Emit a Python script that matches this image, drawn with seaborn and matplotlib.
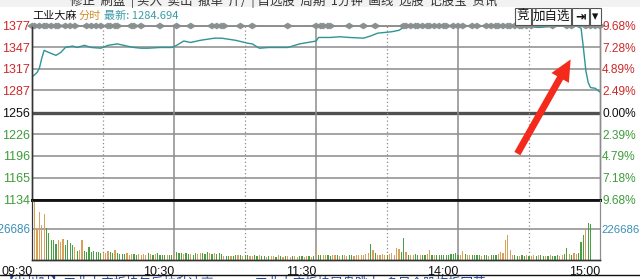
import numpy as np
import pandas as pd
import matplotlib
matplotlib.use("Agg")
import matplotlib.pyplot as plt
from matplotlib.path import Path
import seaborn as sns

# ---------------- data ----------------
levels = [1377, 1347, 1317, 1287, 1256, 1226, 1196, 1165, 1134]
pct_labels = ['9.68%', '7.28%', '4.89%', '2.49%', '0.00%', '2.39%', '4.79%', '7.18%', '9.68%']
time_ticks = [0, 60, 120, 180, 240]
time_labels = ['09:30', '10:30', '11:30', '14:00', '15:00']
vol_ref = 226686

price_minutes = [0, 2, 3, 4, 5, 7, 10, 12, 14, 17, 19, 22, 25, 29, 32, 36, 40, 43, 46, 49,
                 54, 59, 61, 64, 67, 71, 75, 77, 80, 86, 91, 93, 96, 100, 108, 113, 120,
                 121, 126, 130, 134, 140, 143, 146, 152, 155, 157, 160, 164, 172, 181,
                 189, 198, 206, 214, 223, 230, 232, 233, 234, 235, 236, 238, 240]
price_values = [1306, 1312, 1318, 1332, 1343, 1340, 1336, 1340, 1347, 1349, 1347, 1350, 1347,
                1346, 1350, 1352, 1349, 1347, 1346, 1346, 1347, 1347, 1350, 1356, 1354, 1357,
                1359, 1360, 1360, 1357, 1353, 1352, 1346, 1347, 1347, 1352, 1356,
                1361, 1361, 1362, 1361, 1360, 1363, 1367, 1369, 1371, 1375, 1377, 1378, 1378,
                1377, 1377, 1377, 1377, 1375, 1377, 1377, 1374, 1346, 1315, 1298, 1291, 1290,
                1284.7]

marker_minutes = [0, 1, 3, 5, 6, 8, 10, 11, 14, 16, 18, 23, 25, 27, 29, 32, 33, 35, 36, 42, 43,
                  46, 54, 61, 67, 76, 78, 80, 81, 88, 93, 108, 120, 122, 123, 125, 126, 134,
                  140, 145, 157, 158, 160, 162, 163, 165, 167, 168, 170, 172, 174, 175, 178,
                  180, 182, 186, 188, 192, 194, 196, 197, 199, 201, 202, 204, 206, 207, 209,
                  211, 220, 226, 228, 234, 236, 238, 240]

# volume in thousands, one per minute (09:30 - 11:30, then 13:01 - 15:00)
volume_am_k = [182, 426, 227, 353, 257, 333, 232, 194, 149, 144, 118, 149, 131, 151, 113, 149,
               123, 106, 93, 68, 73, 144, 68, 55, 93, 55, 63, 55, 55, 50, 48, 50, 63, 55, 50,
               73, 48, 45, 45, 43, 48, 40, 45, 42, 38, 45, 40, 42, 38, 48, 42, 38, 45, 48, 40,
               36, 33, 38, 35, 40, 48, 58, 52, 50, 45, 48, 42, 45, 40, 48, 45, 50, 48, 45, 58,
               50, 45, 48, 45, 50, 42, 30, 28, 32, 30, 28, 33, 38, 33, 30, 38, 35, 28, 30, 33,
               30, 35, 28, 30, 25, 28, 30, 28, 25, 33, 28, 25, 30, 28, 25, 30, 28, 25, 28, 30,
               25, 28, 30, 25, 28, 95]
volume_pm_k = [38, 35, 40, 33, 38, 30, 35, 38, 33, 30, 35, 38, 30, 33, 35, 30, 38, 33, 35, 40,
               45, 50, 116, 70, 48, 40, 38, 45, 40, 35, 45, 50, 40, 91, 83, 55, 159, 58, 40, 35,
               38, 42, 35, 38, 40, 35, 45, 75, 38, 40, 35, 38, 33, 40, 35, 38, 42, 45, 48, 40,
               38, 65, 42, 38, 35, 40, 33, 35, 38, 30, 33, 35, 30, 38, 33, 35, 45, 58, 50, 146,
               184, 70, 40, 35, 30, 28, 33, 30, 35, 30, 28, 33, 30, 35, 33, 28, 30, 28, 33, 30,
               28, 35, 30, 33, 45, 91, 45, 40, 48, 45, 50, 134, 184, 222, 272, 260, 0, 0, 0, 0]
# o = opening bar, u = up (orange), d = down (green)
direction_am = ("ouuuuuddddduuudddduduudddddddduuuddu"
                "dddduuudduuuudududdddudduddduddudduudddududddudduddududduuddudduduudud"
                "uduuduuddu")
direction_pm = ("udududduudduududuudduuuuuuududuuuuduuuuudduduuddudduudu"
                "dddddddddduuduuddddudduddduuuuuuuddudduduududdududdduudduduu"
                "dddudddddd")

# ---------------- build tables ----------------
vol = np.array(volume_am_k + volume_pm_k, dtype=float) * 1000
dirs = list(direction_am + direction_pm)
n = len(vol)
dirs = (dirs + ['d'] * n)[:n]
df_vol = pd.DataFrame({'minute': np.arange(n), 'volume': vol, 'dir': dirs})
df_price = pd.DataFrame({'minute': price_minutes, 'price': price_values})
df_mark = pd.DataFrame({'minute': marker_minutes, 'y': [1377] * len(marker_minutes)})

# ---------------- style ----------------
sns.set_style('white')
plt.rcParams['font.family'] = ['Liberation Sans', 'Noto Sans CJK SC', 'DejaVu Sans']
CJK = ['Noto Sans CJK SC', 'DejaVu Sans']

RED = '#cc2a2a'
GREEN = '#3f9c3a'
TEAL_TXT = '#3a8fb8'
GRID = '#8c8c8c'
LINE = '#2f9494'
ORANGE = '#d9a05c'
BARGREEN = '#4a9f45'
BLUEBAR = '#5aaed0'

W, H = 640, 279
fig = plt.figure(figsize=(W / 100, H / 100), dpi=100)
fig.patch.set_facecolor('white')

def fx(x):
    return x / W

def fy(y):
    return 1 - y / H

L, R = 32.3, 600
ax = fig.add_axes([fx(L), fy(200), fx(R - L), (200 - 26) / H])
axv = fig.add_axes([fx(L), fy(260), fx(R - L), (260 - 200) / H])

# ---------------- price panel ----------------
for lv in levels:
    if lv == 1256:
        ax.axhline(lv, color='#505050', lw=2.4, zorder=1)
    elif lv == 1134:
        pass
    else:
        ax.axhline(lv, color=GRID, lw=1.1, zorder=1)
for m in [60, 120, 180]:
    ax.axvline(m, color=GRID, lw=1.1, zorder=1)
for m in [30, 90, 150, 210]:
    ax.axvline(m, color=GRID, lw=0.9, ls=(0, (1, 2)), zorder=1)

sns.lineplot(data=df_price, x='minute', y='price', ax=ax, color=LINE, lw=1.0,
             estimator=None, sort=False, zorder=3)

diamond = Path([(-1, 0), (0, 0.62), (1, 0), (0, -0.62), (-1, 0)],
               [Path.MOVETO, Path.LINETO, Path.LINETO, Path.LINETO, Path.CLOSEPOLY])
sns.scatterplot(data=df_mark, x='minute', y='y', ax=ax, marker=diamond, s=62,
                color='#8a9494', edgecolor='none', linewidth=0, zorder=4, clip_on=False)

ax.set_xlim(0, 240)
ax.set_ylim(1134, 1377)
ax.set_xlabel('')
ax.set_ylabel('')
ax.set_xticks([])
ax.set_yticks(levels)
ax.set_yticklabels([str(v) for v in levels], fontsize=9)
ax.tick_params(axis='y', length=0, pad=1.5)
for lbl, lv in zip(ax.get_yticklabels(), levels):
    lbl.set_color(RED if lv > 1256 else ('#111111' if lv == 1256 else GREEN))

axr = ax.twinx()
axr.set_ylim(1134, 1377)
axr.set_yticks(levels)
axr.set_yticklabels(pct_labels, fontsize=8.6)
axr.tick_params(axis='y', length=0, pad=1.5)
for lbl, lv in zip(axr.get_yticklabels(), levels):
    lbl.set_color(RED if lv > 1256 else ('#111111' if lv == 1256 else GREEN))

for a in (ax, axr):
    a.spines['top'].set_color(GRID)
    a.spines['top'].set_linewidth(1.1)
    a.spines['left'].set_color('#333333')
    a.spines['left'].set_linewidth(1.0)
    a.spines['right'].set_color(GRID)
    a.spines['right'].set_linewidth(1.0)
    a.spines['bottom'].set_color('#111111')
    a.spines['bottom'].set_linewidth(2.0)

# ---------------- volume panel ----------------
axv.axhline(vol_ref, color=GRID, lw=1.1, zorder=0)
for m in [60, 120, 180]:
    axv.axvline(m, color=GRID, lw=1.1, zorder=0)
for m in [30, 90, 150, 210]:
    axv.axvline(m, color=GRID, lw=0.9, ls=(0, (1, 2)), zorder=0)

sns.barplot(data=df_vol, x='minute', y='volume', hue='dir', ax=axv,
            palette={'u': ORANGE, 'd': BARGREEN, 'o': BLUEBAR},
            width=0.5, dodge=False, legend=False, linewidth=0, edgecolor='none',
            saturation=1, errorbar=None, zorder=2)
axv.set_xlim(0, 240)
axv.set_ylim(0, 438000)
axv.set_xlabel('')
axv.set_ylabel('')
axv.set_yticks([vol_ref])
axv.set_yticklabels([str(vol_ref)], fontsize=8.4, color=TEAL_TXT)
axv.tick_params(axis='y', length=0, pad=1.5)
axv.set_xticks(time_ticks)
axv.set_xticklabels(time_labels, fontsize=9, color='#111111', ha='right')
axv.tick_params(axis='x', length=3, width=0.8, color=GRID, pad=1)
axvr = axv.twinx()
axvr.set_ylim(0, 438000)
axvr.set_yticks([vol_ref])
axvr.set_yticklabels([str(vol_ref)], fontsize=8.2, color=TEAL_TXT)
axvr.tick_params(axis='y', length=0, pad=1.2)
for a in (axv, axvr):
    a.spines['top'].set_visible(False)
    a.spines['left'].set_color('#333333')
    a.spines['right'].set_color(GRID)
    a.spines['bottom'].set_color('#333333')
    a.spines['bottom'].set_linewidth(1.0)

# ---------------- header / decorations ----------------
fig.text(fx(32), fy(16), '工业大麻', fontsize=8, color='#111111', family=CJK, va='center')
fig.text(fx(79), fy(16), '分时', fontsize=8, color='#d08e2c', family=CJK, va='center')
fig.text(fx(104), fy(16), '最新: 1284.694', fontsize=8, color='#3a9aa6', family=CJK, va='center')

# clipped toolbar at top
fig.patches.append(plt.Rectangle((0, fy(7)), 1, 7 / H, transform=fig.transFigure,
                                 facecolor='#f2f2f2', edgecolor='none', zorder=0))
fig.text(fx(70), fy(7.5), '修正  刷盘  | 买入  卖出  撤单  斤/  | 自选股  周期  1分钟  画线  选股  记股宝  资讯',
         fontsize=9, color='#333333', family=CJK, va='bottom')

# buttons at top right
for txt, x0, x1 in [('竞', 515, 531), ('加自选', 532, 571), ('⇥', 572, 589), ('▾', 590, 601)]:
    fig.patches.append(plt.Rectangle((fx(x0), fy(25)), fx(x1 - x0), 17 / H,
                                     transform=fig.transFigure, facecolor='white',
                                     edgecolor='#555555', lw=0.8, zorder=5))
    fig.text(fx((x0 + x1) / 2), fy(16.5), txt, fontsize=9, color='#111111', family=CJK,
             ha='center', va='center', zorder=6,
             fontweight='bold' if txt in ('⇥', '▾') else 'normal')

# bottom clipped news line
fig.lines.append(plt.Line2D([0, 1], [fy(275), fy(275)], transform=fig.transFigure,
                            color='#111111', lw=1.0))
fig.text(fx(2), fy(276.5), '【出州时】工业大麻板块午后拉升冲高',
         fontsize=9, color='#1c3f9c', family=CJK, va='top')
fig.text(fx(255), fy(276.5), '工业大麻板块尾盘跳水  多只个股炸板回落',
         fontsize=9, color='#1c3f9c', family=CJK, va='top')

# red arrow
ax_arrow = fig.add_axes([0, 0, 1, 1], facecolor='none')
ax_arrow.set_xlim(0, W)
ax_arrow.set_ylim(H, 0)
ax_arrow.axis('off')
ax_arrow.annotate('', xy=(572, 57), xytext=(516, 156),
                  arrowprops=dict(arrowstyle='simple,head_width=1.6,head_length=1.7,tail_width=0.55',
                                  color='#f42a1c', lw=0, mutation_scale=9))

fig.savefig('out.png', dpi=100, facecolor='white')
